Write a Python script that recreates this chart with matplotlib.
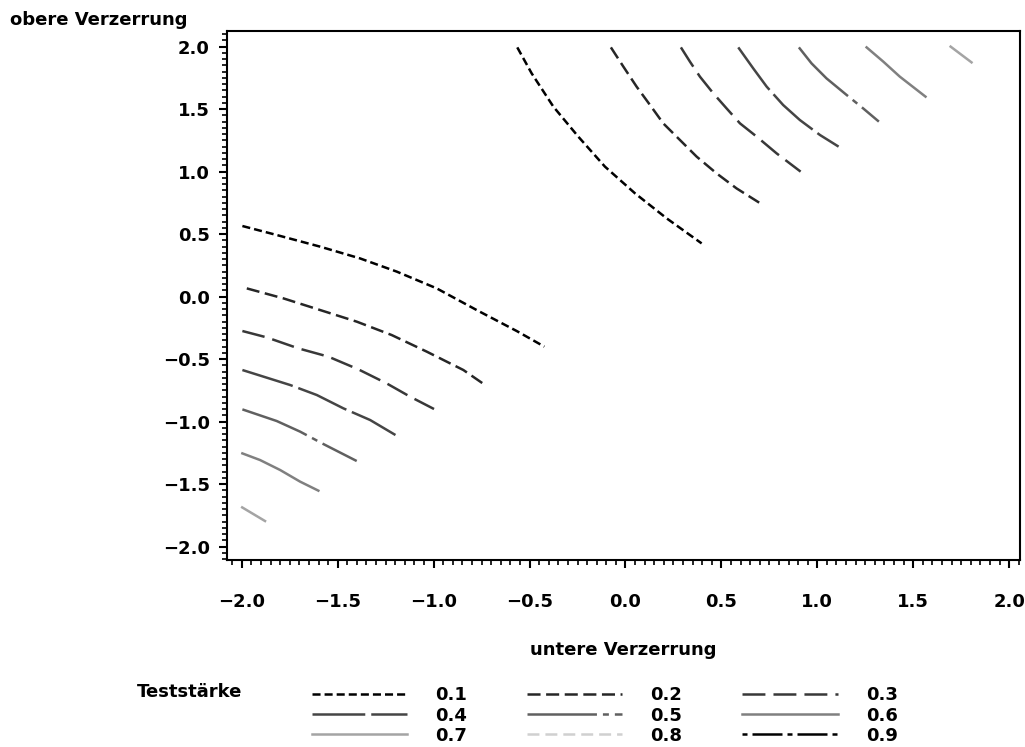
import matplotlib
matplotlib.use("Agg")
import matplotlib.pyplot as plt
from matplotlib.ticker import MultipleLocator, FuncFormatter

plt.rcParams['font.family'] = ['DejaVu Sans']
plt.rcParams['font.weight'] = 'bold'
plt.rcParams['axes.labelweight'] = 'bold'
plt.rcParams['lines.scale_dashes'] = False

levels = ["0.1", "0.2", "0.3", "0.4", "0.5", "0.6", "0.7", "0.8", "0.9"]

# lower-left branches (x, y)
low_x = {
    "0.1": [-1.997, -1.818, -1.592, -1.384, -1.192, -0.984, -0.776, -0.567, -0.423],
    "0.2": [-1.974, -1.783, -1.592, -1.401, -1.219, -1.036, -0.845, -0.744],
    "0.3": [-1.997, -1.870, -1.705, -1.549, -1.392, -1.245, -1.123, -0.998],
    "0.4": [-1.997, -1.887, -1.748, -1.609, -1.470, -1.331, -1.199],
    "0.5": [-1.997, -1.818, -1.696, -1.575, -1.401],
    "0.6": [-1.997, -1.905, -1.800, -1.696, -1.601],
    "0.7": [-1.998, -1.879],
}
low_y = {
    "0.1": [0.564, 0.492, 0.399, 0.305, 0.199, 0.065, -0.108, -0.276, -0.401],
    "0.2": [0.065, -0.015, -0.108, -0.201, -0.308, -0.441, -0.588, -0.695],
    "0.3": [-0.276, -0.327, -0.415, -0.481, -0.583, -0.695, -0.801, -0.900],
    "0.4": [-0.588, -0.641, -0.708, -0.788, -0.895, -0.988, -1.108],
    "0.5": [-0.903, -0.996, -1.081, -1.180, -1.316],
    "0.6": [-1.255, -1.308, -1.388, -1.481, -1.553],
    "0.7": [-1.687, -1.796],
}
# upper-right branches
up_x = {
    "0.1": [-0.564, -0.489, -0.376, -0.246, -0.107, 0.050, 0.215, 0.397],
    "0.2": [-0.076, -0.011, 0.058, 0.128, 0.197, 0.284, 0.371, 0.475, 0.579, 0.697],
    "0.3": [0.289, 0.336, 0.388, 0.458, 0.527, 0.597, 0.684, 0.788, 0.913],
    "0.4": [0.588, 0.666, 0.736, 0.822, 0.909, 1.014, 1.111],
    "0.5": [0.904, 0.970, 1.048, 1.153, 1.239, 1.321],
    "0.6": [1.257, 1.344, 1.430, 1.564],
    "0.7": [1.695, 1.804],
}
up_y = {
    "0.1": [1.993, 1.785, 1.519, 1.279, 1.039, 0.825, 0.625, 0.425],
    "0.2": [1.993, 1.839, 1.679, 1.532, 1.385, 1.252, 1.119, 0.985, 0.865, 0.751],
    "0.3": [1.993, 1.879, 1.759, 1.625, 1.505, 1.385, 1.279, 1.145, 0.999],
    "0.4": [1.993, 1.825, 1.679, 1.532, 1.412, 1.292, 1.199],
    "0.5": [1.993, 1.865, 1.745, 1.612, 1.505, 1.399],
    "0.6": [1.993, 1.879, 1.759, 1.599],
    "0.7": [1.999, 1.873],
}

colors = {"0.1": "#000000", "0.2": "#262626", "0.3": "#383838", "0.4": "#454545",
          "0.5": "#606060", "0.6": "#808080", "0.7": "#a4a4a4", "0.8": "#d0d0d0",
          "0.9": "#000000"}
styles = {"0.1": (0, (5.8, 2.9)), "0.2": (0, (9.4, 4.0)), "0.3": (0, (16.5, 5.8)),
          "0.4": (0, (38, 4.3)), "0.5": (0, (50, 4.3, 4.3, 4.3)), "0.6": "-",
          "0.7": "-", "0.8": (0, (8.6, 4.3)), "0.9": (0, (3.6, 3.6, 21.6, 3.6))}

FS = 13

fig = plt.figure(figsize=(10.25, 7.47), dpi=100)
ax = fig.add_axes([0.2215, 0.2503, 0.7735, 0.7082])

handles = {}
for lv in levels:
    h, = ax.plot([], [], color=colors[lv], linestyle=styles[lv], lw=1.8, label=lv)
    handles[lv] = h
    if lv in low_x:
        ax.plot(low_x[lv], low_y[lv], color=colors[lv], linestyle=styles[lv], lw=1.8)
        ax.plot(up_x[lv], up_y[lv], color=colors[lv], linestyle=styles[lv], lw=1.8)

ax.set_xlim(-2.077, 2.056)
ax.set_ylim(-2.108, 2.124)
fmt = FuncFormatter(lambda v, p: ("%.1f" % v).replace("-", "\u2212"))
ax.xaxis.set_major_locator(MultipleLocator(0.5))
ax.yaxis.set_major_locator(MultipleLocator(0.5))
ax.xaxis.set_minor_locator(MultipleLocator(0.05))
ax.yaxis.set_minor_locator(MultipleLocator(0.05))
ax.xaxis.set_major_formatter(fmt)
ax.yaxis.set_major_formatter(fmt)
for s in ax.spines.values():
    s.set_linewidth(1.5)
ax.tick_params(which='major', length=5.5, width=1.5, labelsize=FS)
ax.tick_params(which='minor', length=3.3, width=1.2)
ax.tick_params(axis='x', which='major', pad=18)
ax.tick_params(axis='y', which='major', pad=7)
ax.set_xlabel("untere Verzerrung", fontsize=FS, labelpad=22)
fig.text(0.01, 0.973, "obere Verzerrung", fontsize=FS, ha='left', va='center')

order = ["0.1", "0.4", "0.7", "0.2", "0.5", "0.8", "0.3", "0.6", "0.9"]
leg = fig.legend([handles[k] for k in order], order, ncol=3, loc='center left',
                 bbox_to_anchor=(0.304, 0.042), frameon=False, fontsize=FS,
                 handlelength=5.3, handletextpad=1.55, columnspacing=3.3,
                 labelspacing=0.12, borderpad=0, borderaxespad=0)
fig.text(0.134, 0.073, "Teststärke", fontsize=FS, ha='left', va='center')

fig.savefig("out.png", dpi=100)
